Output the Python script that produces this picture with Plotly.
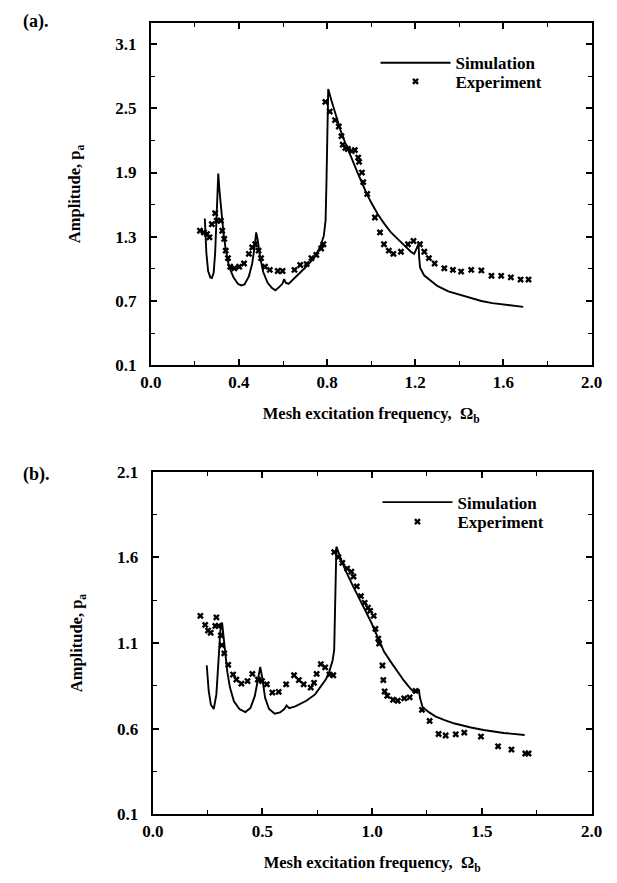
import plotly.graph_objects as go

# ---------------- Panel (a) data ----------------
sim_a_x = [0.245, 0.252, 0.260, 0.270, 0.277, 0.285, 0.292, 0.298, 0.304, 0.306, 0.312, 0.320, 0.330, 0.340,
           0.355, 0.375, 0.395, 0.410, 0.425, 0.445, 0.460, 0.472, 0.478, 0.485, 0.495, 0.510, 0.530, 0.550,
           0.565, 0.580, 0.597, 0.605, 0.612, 0.625, 0.660, 0.700, 0.740, 0.770, 0.785, 0.793, 0.797, 0.800,
           0.805, 0.820, 0.840, 0.860, 0.880, 0.900, 0.920, 0.940, 0.960, 0.980, 1.000, 1.030, 1.060, 1.090,
           1.120, 1.150, 1.180, 1.195, 1.205, 1.215, 1.218, 1.222, 1.240, 1.262, 1.300, 1.350, 1.400, 1.450,
           1.500, 1.550, 1.600, 1.650, 1.690]
sim_a_y = [1.47, 1.15, 0.98, 0.92, 0.915, 0.96, 1.15, 1.45, 1.80, 1.89, 1.72, 1.52, 1.33, 1.18,
           1.02, 0.92, 0.86, 0.845, 0.855, 0.93, 1.05, 1.22, 1.34, 1.27, 1.12, 0.97, 0.87, 0.82,
           0.80, 0.825, 0.86, 0.905, 0.87, 0.86, 0.93, 1.01, 1.10, 1.21, 1.31, 1.45, 1.80, 2.30,
           2.68, 2.57, 2.43, 2.30, 2.19, 2.08, 1.99, 1.89, 1.79, 1.70, 1.62, 1.51, 1.42, 1.34,
           1.28, 1.22, 1.16, 1.14, 1.18, 1.23, 1.10, 1.01, 0.94, 0.90, 0.84, 0.79, 0.76, 0.73,
           0.70, 0.68, 0.665, 0.655, 0.645]

exp_a_x = [0.223, 0.241, 0.255, 0.266, 0.277, 0.292, 0.299, 0.318, 0.324, 0.333, 0.340, 0.350, 0.360, 0.379,
           0.401, 0.423, 0.445, 0.460, 0.474, 0.489, 0.500, 0.518, 0.540, 0.576, 0.598, 0.652, 0.678, 0.707,
           0.729, 0.751, 0.773, 0.783, 0.792, 0.812, 0.836, 0.853, 0.865, 0.871, 0.883, 0.894, 0.912, 0.926,
           0.941, 0.945, 0.958, 0.964, 0.982, 1.017, 1.040, 1.058, 1.080, 1.101, 1.135, 1.167, 1.192, 1.221,
           1.241, 1.262, 1.288, 1.332, 1.371, 1.408, 1.454, 1.500, 1.546, 1.590, 1.634, 1.678, 1.714]
exp_a_y = [1.356, 1.34, 1.325, 1.295, 1.417, 1.52, 1.45, 1.45, 1.356, 1.28, 1.17, 1.10, 1.02, 1.005,
           1.02, 1.05, 1.14, 1.20, 1.23, 1.17, 1.10, 1.02, 0.99, 0.98, 0.98, 0.99, 1.036, 1.045,
           1.10, 1.13, 1.19, 1.23, 2.56, 2.47, 2.39, 2.33, 2.24, 2.16, 2.13, 2.12, 2.10, 2.11,
           2.04, 2.00, 1.90, 1.81, 1.70, 1.48, 1.34, 1.23, 1.17, 1.14, 1.16, 1.23, 1.26, 1.23,
           1.16, 1.10, 1.05, 1.005, 0.99, 0.975, 0.99, 0.985, 0.935, 0.935, 0.92, 0.90, 0.90]

# ---------------- Panel (b) data ----------------
sim_b_x = [0.246, 0.255, 0.265, 0.278, 0.290, 0.300, 0.308, 0.316, 0.322, 0.330, 0.340, 0.352, 0.370, 0.395,
           0.422, 0.445, 0.465, 0.480, 0.490, 0.500, 0.512, 0.530, 0.556, 0.580, 0.600, 0.610, 0.622, 0.650,
           0.700, 0.740, 0.761, 0.790, 0.805, 0.820, 0.827, 0.830, 0.834, 0.837, 0.855, 0.878, 0.910, 0.937,
           0.965, 0.996, 1.025, 1.054, 1.085, 1.113, 1.145, 1.171, 1.193, 1.205, 1.213, 1.218, 1.230, 1.260,
           1.288, 1.330, 1.376, 1.450, 1.508, 1.600, 1.695]
sim_b_y = [0.97, 0.82, 0.74, 0.715, 0.80, 1.02, 1.17, 1.22, 1.13, 1.05, 0.93, 0.84, 0.76, 0.715,
           0.697, 0.72, 0.79, 0.89, 0.96, 0.89, 0.78, 0.715, 0.687, 0.695, 0.715, 0.735, 0.72, 0.73,
           0.763, 0.80, 0.84, 0.89, 0.935, 1.00, 1.06, 1.30, 1.60, 1.663, 1.60, 1.526, 1.44, 1.374,
           1.30, 1.22, 1.135, 1.05, 0.99, 0.935, 0.88, 0.84, 0.81, 0.82, 0.83, 0.78, 0.725, 0.695,
           0.672, 0.65, 0.63, 0.607, 0.592, 0.575, 0.563]

exp_b_x = [0.217, 0.239, 0.252, 0.264, 0.285, 0.290, 0.300, 0.310, 0.315, 0.326, 0.344, 0.366, 0.381, 0.404,
           0.432, 0.454, 0.479, 0.498, 0.520, 0.545, 0.574, 0.608, 0.644, 0.666, 0.688, 0.720, 0.735, 0.747,
           0.766, 0.786, 0.805, 0.823, 0.827, 0.846, 0.864, 0.886, 0.905, 0.915, 0.930, 0.949, 0.966, 0.981,
           0.991, 1.007, 1.015, 1.028, 1.032, 1.047, 1.051, 1.057, 1.069, 1.095, 1.117, 1.146, 1.171, 1.198,
           1.227, 1.262, 1.303, 1.335, 1.381, 1.420, 1.496, 1.574, 1.635, 1.698, 1.713]
exp_b_y = [1.259, 1.206, 1.173, 1.16, 1.20, 1.25, 1.20, 1.145, 1.088, 1.04, 0.973, 0.916, 0.887, 0.863,
           0.878, 0.92, 0.887, 0.878, 0.859, 0.811, 0.815, 0.859, 0.912, 0.884, 0.859, 0.84, 0.868, 0.92,
           0.977, 0.958, 0.916, 0.912, 1.631, 1.602, 1.568, 1.535, 1.517, 1.488, 1.431, 1.374, 1.335, 1.307,
           1.288, 1.259, 1.183, 1.126, 1.097, 0.969, 0.884, 0.817, 0.792, 0.769, 0.763, 0.777, 0.783, 0.821,
           0.71, 0.645, 0.569, 0.56, 0.567, 0.577, 0.554, 0.497, 0.478, 0.455, 0.455]

ticks_a_x = [0.0, 0.4, 0.8, 1.2, 1.6, 2.0]
ticks_a_y = [0.1, 0.7, 1.3, 1.9, 2.5, 3.1]
ticks_b_x = [0.0, 0.5, 1.0, 1.5, 2.0]
ticks_b_y = [0.1, 0.6, 1.1, 1.6, 2.1]

FONT = "Liberation Serif"
W, H = 617, 883

fig = go.Figure()

line_style = dict(color="black", width=1.9)
mark_style = dict(symbol="x", size=6, color="black", line=dict(width=0))

fig.add_trace(go.Scatter(x=sim_a_x, y=sim_a_y, mode="lines", line=line_style, name="Simulation",
                         xaxis="x", yaxis="y", legend="legend2"))
fig.add_trace(go.Scatter(x=exp_a_x, y=exp_a_y, mode="markers", marker=mark_style, name="Experiment",
                         xaxis="x", yaxis="y", legend="legend3"))
fig.add_trace(go.Scatter(x=sim_b_x, y=sim_b_y, mode="lines", line=line_style, name="Simulation",
                         xaxis="x2", yaxis="y2", legend="legend4"))
fig.add_trace(go.Scatter(x=exp_b_x, y=exp_b_y, mode="markers", marker=mark_style, name="Experiment",
                         xaxis="x2", yaxis="y2", legend="legend5"))


def px_x(p):
    return p / W


def px_y(p):
    return 1 - p / H


TICK_FONT = dict(family=FONT, size=17, color="black", weight="bold")
TITLE_FONT = dict(family=FONT, size=16.5, color="black", weight="bold")


def axis_common():
    return dict(showline=True, linecolor="black", linewidth=2, mirror="ticks",
                ticks="inside", ticklen=6, tickwidth=1.5, tickcolor="black",
                showgrid=False, zeroline=False, tickfont=TICK_FONT,
                minor=dict(ticks="inside", ticklen=4, tickwidth=1.2, tickcolor="black", showgrid=False))


xa = axis_common()
xa.update(domain=[px_x(145), px_x(602)], range=[0, 2.0], tickvals=ticks_a_x,
          ticktext=[f"{v:.1f}" for v in ticks_a_x], anchor="y",
          title=dict(text="Mesh excitation frequency,  Ω<sub>b</sub>", standoff=17, font=TITLE_FONT))
xa["minor"]["tickvals"] = [0.2, 0.6, 1.0, 1.4, 1.8]
ya = axis_common()
ya.update(domain=[px_y(364), px_y(14)], range=[0.1, 3.3], tickvals=ticks_a_y,
          ticktext=[f"{v:.1f}" for v in ticks_a_y], anchor="x", ticklabelstandoff=9,
          title=dict(text="Amplitude, p<sub>a</sub>", standoff=30, font=TITLE_FONT))
ya["minor"]["tickvals"] = [0.4, 1.0, 1.6, 2.2, 2.8]

xb = axis_common()
xb.update(domain=[px_x(147), px_x(602)], range=[0, 2.0], tickvals=ticks_b_x,
          ticktext=[f"{v:.1f}" for v in ticks_b_x], anchor="y2",
          title=dict(text="Mesh excitation frequency,  Ω<sub>b</sub>", standoff=17, font=TITLE_FONT))
xb["minor"]["tickvals"] = [0.25, 0.75, 1.25, 1.75]
yb = axis_common()
yb.update(domain=[px_y(823), px_y(473)], range=[0.1, 2.1], tickvals=ticks_b_y,
          ticktext=[f"{v:.1f}" for v in ticks_b_y], anchor="x2", ticklabelstandoff=9,
          title=dict(text="Amplitude, p<sub>a</sub>", standoff=30, font=TITLE_FONT))
yb["minor"]["tickvals"] = [0.35, 0.85, 1.35, 1.85]

legend_font = dict(family=FONT, size=17, color="black", weight="bold")


def leg(xp, yp):
    return dict(x=px_x(xp), y=px_y(yp), xanchor="left", yanchor="top", font=legend_font,
                bgcolor="rgba(0,0,0,0)", itemwidth=70, tracegroupgap=0)


fig.update_layout(
    width=W, height=H,
    margin=dict(l=0, r=0, t=0, b=0),
    paper_bgcolor="white", plot_bgcolor="white",
    font=dict(family=FONT, color="black"),
    xaxis=xa, yaxis=ya, xaxis2=xb, yaxis2=yb,
    legend2=leg(378, 37),
    legend3=leg(378, 56),
    legend4=leg(380, 486),
    legend5=leg(380, 506),
    annotations=[
        dict(text="(a).", x=px_x(10), y=px_y(13), xref="paper", yref="paper", xanchor="left",
             yanchor="middle", showarrow=False, font=dict(family=FONT, size=18, color="black", weight="bold")),
        dict(text="(b).", x=px_x(10), y=px_y(476), xref="paper", yref="paper", xanchor="left",
             yanchor="middle", showarrow=False, font=dict(family=FONT, size=18, color="black", weight="bold")),
    ],
)

fig.write_html("out.html")
